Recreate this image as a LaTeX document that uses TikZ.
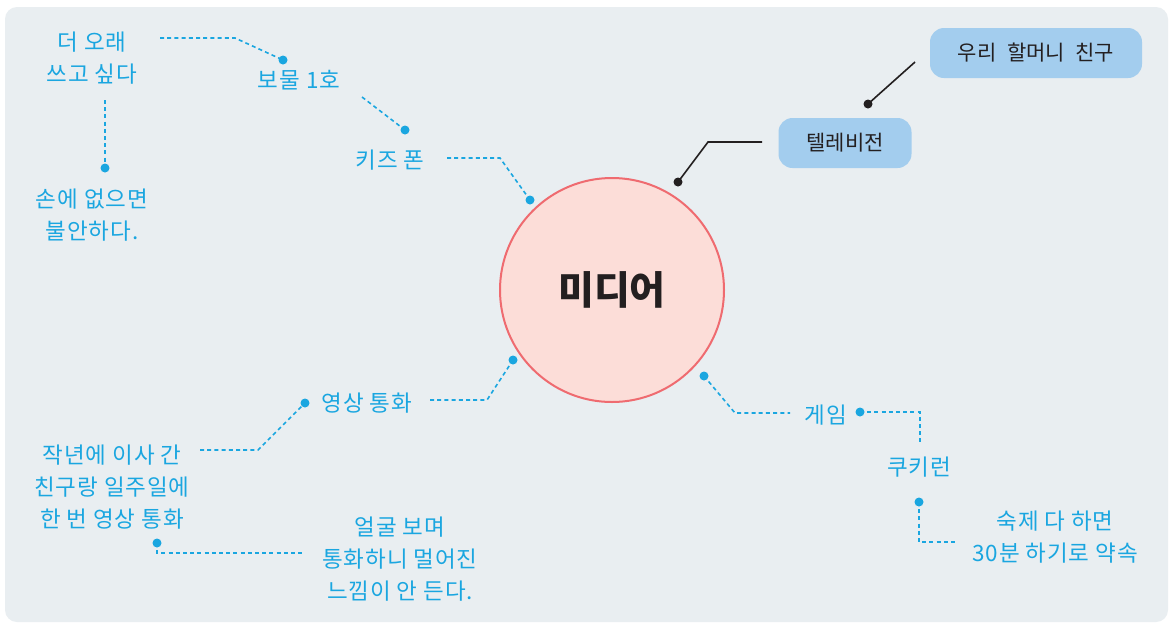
\documentclass[tikz,border=0pt]{standalone}
\usepackage{fontspec}
\setmainfont{Noto Sans CJK KR}
\newfontfamily\krsp[LetterSpace=4]{Noto Sans CJK KR}
\usetikzlibrary{calc}
\definecolor{bg}{HTML}{E9EEF1}
\definecolor{txtblue}{HTML}{1AA6E0}
\definecolor{boxblue}{HTML}{A3CDEE}
\definecolor{circfill}{HTML}{FCDDD8}
\definecolor{circline}{HTML}{EF6B70}
\definecolor{ink}{HTML}{231F20}
\begin{document}
\begin{tikzpicture}[x=1pt,y=-1pt,
 lbl/.style={text=txtblue, font=\krsp\fontsize{22.5}{32}\selectfont, align=center, inner sep=0pt},
 conn/.style={draw=txtblue, line width=1.6pt, dash pattern=on 4pt off 3.2pt},
 dotb/.style={circle, fill=txtblue, inner sep=0pt, minimum size=9pt},
 dotk/.style={circle, fill=ink, inner sep=0pt, minimum size=9pt},
 blk/.style={draw=ink, line width=1.6pt},
 pill/.style={fill=boxblue, rounded corners=14pt, text=ink, font=\fontsize{21}{24}\selectfont, inner sep=0pt, minimum height=50pt}]
\useasboundingbox (0,0) rectangle (1173,625);
\fill[white] (0,0) rectangle (1173,625);
\fill[bg, rounded corners=12pt] (5,7) rectangle (1168,622);

% centre
\node[circle, fill=circfill, draw=circline, line width=2pt, minimum size=224pt, inner sep=0pt,
      font=\fontsize{39}{42}\selectfont\bfseries, text=ink] (media) at (612,290) {미디어};

% labels
\node[lbl] (ore) at (92,58) {더 오래\\쓰고 싶다};
\node[lbl] (bomul) at (299,80) {보물 1호};
\node[lbl] (kids) at (390,160) {키즈 폰};
\node[lbl] (son) at (92,215) {손에 없으면\\불안하다.};
\node[lbl] (video) at (367,403) {영상 통화};
\node[lbl] (friend) at (112,487) {작년에 이사 간\\친구랑 일주일에\\한 번 영상 통화};
\node[lbl] (face) at (400,559) {얼굴 보며\\통화하니 멀어진\\느낌이 안 든다.};
\node[lbl] (game) at (826,415) {게임};
\node[lbl] (cookie) at (919,467) {쿠키런};
\node[lbl] (hw) at (1055,537) {숙제 다 하면\\30분 하기로 약속};

\node[pill, minimum width=133pt] (tv) at (845,143) {텔레비전};
\node[pill, minimum width=212pt] (grand) at (1036,53) {우리\hspace{0.5em}할머니\hspace{0.5em}친구};

% blue dots
\node[dotb] (d1) at (283,60) {};
\node[dotb] (d2) at (405,130) {};
\node[dotb] (d3) at (530,200) {};
\node[dotb] (d4) at (105,168) {};
\node[dotb] (d5) at (513,360) {};
\node[dotb] (d6) at (305,403) {};
\node[dotb] (d7) at (157,543) {};
\node[dotb] (d8) at (704,376) {};
\node[dotb] (d9) at (860,412) {};
\node[dotb] (d10) at (919,502) {};
% black dots
\node[dotk] (k1) at (678,182) {};
\node[dotk] (k2) at (868,104) {};

% coordinates for free ends and bends
\coordinate (s1) at (160,38);  \coordinate (b1) at (235,38);
\coordinate (s2) at (362,97);
\coordinate (s3) at (447,158); \coordinate (b3) at (500,158);
\coordinate (s4) at (105,100);
\coordinate (s5) at (430,400); \coordinate (b5) at (487,400);
\coordinate (s6) at (200,450); \coordinate (b6) at (258,450);
\coordinate (b7) at (157,553); \coordinate (s7) at (305,553);
\coordinate (b8) at (735,413); \coordinate (s8) at (790,413);
\coordinate (b9) at (920,412); \coordinate (s9) at (920,443);
\coordinate (b10) at (919,542); \coordinate (s10) at (958,542);
\coordinate (kb1) at (708,142); \coordinate (ks1) at (762,142);
\coordinate (ks2) at (915,62);

\draw[conn] (s1) -- (b1) -- (d1.center);
\draw[conn] (s2) -- (d2.center);
\draw[conn] (s3) -- (b3) -- (d3.center);
\draw[conn] (s4) -- (d4.center);
\draw[conn] (s5) -- (b5) -- (d5.center);
\draw[conn] (s6) -- (b6) -- (d6.center);
\draw[conn] (d7.center) -- (b7) -- (s7);
\draw[conn] (d8.center) -- (b8) -- (s8);
\draw[conn] (d9.center) -- (b9) -- (s9);
\draw[conn] (d10.center) -- (b10) -- (s10);
\draw[blk] (k1.center) -- (kb1) -- (ks1);
\draw[blk] (k2.center) -- (ks2);
\end{tikzpicture}
\end{document}
